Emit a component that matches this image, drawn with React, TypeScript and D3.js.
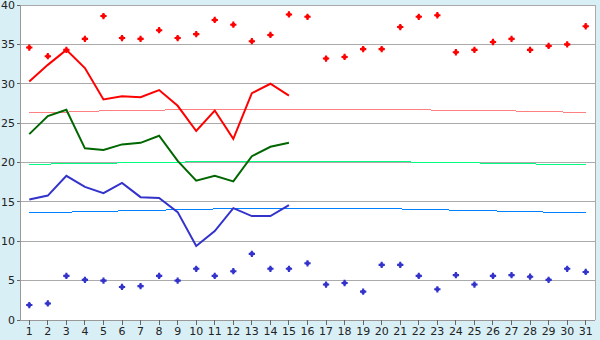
import React from 'react';
import * as d3 from 'd3';

const days = d3.range(1, 32);

// daily max / min readings (diamonds)
const maxTemps = [34.6, 33.5, 34.3, 35.7, 38.6, 35.8, 35.7, 36.8, 35.8, 36.3, 38.1, 37.5, 35.4, 36.2, 38.8,
  38.5, 33.2, 33.4, 34.4, 34.4, 37.2, 38.5, 38.7, 34.0, 34.3, 35.3, 35.7, 34.3, 34.8, 35.0, 37.3];
const minTemps = [1.9, 2.1, 5.6, 5.1, 5.0, 4.2, 4.3, 5.6, 5.0, 6.5, 5.6, 6.2, 8.4, 6.5, 6.5,
  7.2, 4.5, 4.7, 3.6, 7.0, 7.0, 5.6, 3.9, 5.7, 4.5, 5.6, 5.7, 5.5, 5.1, 6.5, 6.1];

// first half of the month
const maxLine = [30.3, 32.4, 34.3, 32.0, 28.0, 28.4, 28.3, 29.2, 27.2, 24.0, 26.6, 23.0, 28.8, 30.0, 28.5];
const meanLine = [23.6, 25.9, 26.7, 21.8, 21.6, 22.3, 22.5, 23.4, 20.2, 17.7, 18.3, 17.6, 20.8, 22.0, 22.5];
const minLine = [15.3, 15.8, 18.3, 16.9, 16.1, 17.4, 15.6, 15.5, 13.7, 9.4, 11.3, 14.2, 13.2, 13.2, 14.6];

// long-term normals
const normalMax = [26.3, 26.3, 26.4, 26.5, 26.55, 26.6, 26.6, 26.65, 26.7, 26.7, 26.75, 26.75, 26.75, 26.75, 26.75,
  26.75, 26.75, 26.75, 26.75, 26.75, 26.75, 26.7, 26.65, 26.6, 26.6, 26.6, 26.55, 26.5, 26.45, 26.4, 26.35];
const normalMean = [19.72, 19.8, 19.85, 19.9, 19.9, 19.95, 19.97, 20.0, 20.05, 20.08, 20.08, 20.08, 20.08, 20.08, 20.08,
  20.08, 20.08, 20.08, 20.08, 20.08, 20.08, 20.05, 20.0, 19.97, 19.95, 19.9, 19.85, 19.82, 19.78, 19.74, 19.7];
const normalMin = [13.6, 13.65, 13.7, 13.75, 13.8, 13.85, 13.9, 13.95, 14.0, 14.05, 14.1, 14.1, 14.1, 14.1, 14.1,
  14.1, 14.1, 14.1, 14.1, 14.1, 14.1, 14.05, 14.0, 13.95, 13.9, 13.85, 13.8, 13.75, 13.7, 13.7, 13.6];

const yTicks = [0, 5, 10, 15, 20, 25, 30, 35, 40];

const W = 600, H = 340;
const left = 20, right = 595, top = 5, bottom = 320;

const App: React.FC = () => {
  const x = d3.scaleBand<number>().domain(days).range([left, right]).padding(0);
  const cx = (d: number) => (x(d) as number) + x.bandwidth() / 2;
  const y = d3.scaleLinear().domain([0, 40]).range([bottom, top]);

  const line = d3.line<number>().x((_, i) => cx(i + 1)).y(v => y(v));
  // chunky plus: cross with a filled square in the middle
  const marker = (d3.symbol().type(d3.symbolCross).size(22)() || '') +
    (d3.symbol().type(d3.symbolSquare).size(12)() || '');

  const series = [
    { data: normalMax, color: '#ff8080' },
    { data: normalMean, color: '#00ff80' },
    { data: normalMin, color: '#0080ff' },
  ];
  const main = [
    { data: maxLine, color: '#ff0000' },
    { data: meanLine, color: '#006600' },
    { data: minLine, color: '#3333cc' },
  ];

  return (
    <svg width={W} height={H} style={{ position: 'fixed', left: 0, top: 0 }}
      fontFamily="DejaVu Sans, Verdana, sans-serif" fontSize={11}>
      <rect width={W} height={H} fill="#d9eff6" />
      <rect x={left} y={top} width={right - left} height={bottom - top} fill="#fff" />

      {yTicks.filter(t => t > 0).map(t => (
        <line key={t} x1={left} x2={right} y1={y(t)} y2={y(t)} stroke="#aaa" shapeRendering="crispEdges" />
      ))}
      <line x1={right} x2={right} y1={top} y2={bottom} stroke="#aaa" shapeRendering="crispEdges" />

      {series.map((s, i) => (
        <path key={i} d={line(s.data) || ''} fill="none" stroke={s.color} strokeWidth={1} shapeRendering="crispEdges" />
      ))}
      {main.map((s, i) => (
        <path key={i} d={line(s.data) || ''} fill="none" stroke={s.color} strokeWidth={2} />
      ))}

      {maxTemps.map((v, i) => (
        <path key={'mx' + i} d={marker} transform={`translate(${cx(i + 1)},${y(v)})`} fill="#ff0000" />
      ))}
      {minTemps.map((v, i) => (
        <path key={'mn' + i} d={marker} transform={`translate(${cx(i + 1)},${y(v)})`} fill="#3333cc" />
      ))}

      {/* axes */}
      <line x1={left} x2={left} y1={top} y2={bottom} stroke="#999" shapeRendering="crispEdges" />
      <line x1={left} x2={right} y1={bottom} y2={bottom} stroke="#999" shapeRendering="crispEdges" />
      {yTicks.map(t => (
        <g key={t}>
          <line x1={left - 3} x2={left} y1={y(t)} y2={y(t)} stroke="#666" shapeRendering="crispEdges" />
          <text x={left - 5} y={y(t)} dy="0.35em" textAnchor="end" fill="#222">{t}</text>
        </g>
      ))}
      {days.map(d => (
        <g key={d}>
          <line x1={cx(d)} x2={cx(d)} y1={bottom} y2={bottom + 5} stroke="#666" shapeRendering="crispEdges" />
          <text x={cx(d)} y={bottom + 15} textAnchor="middle" fill="#222">{d}</text>
        </g>
      ))}
    </svg>
  );
};

export default App;
